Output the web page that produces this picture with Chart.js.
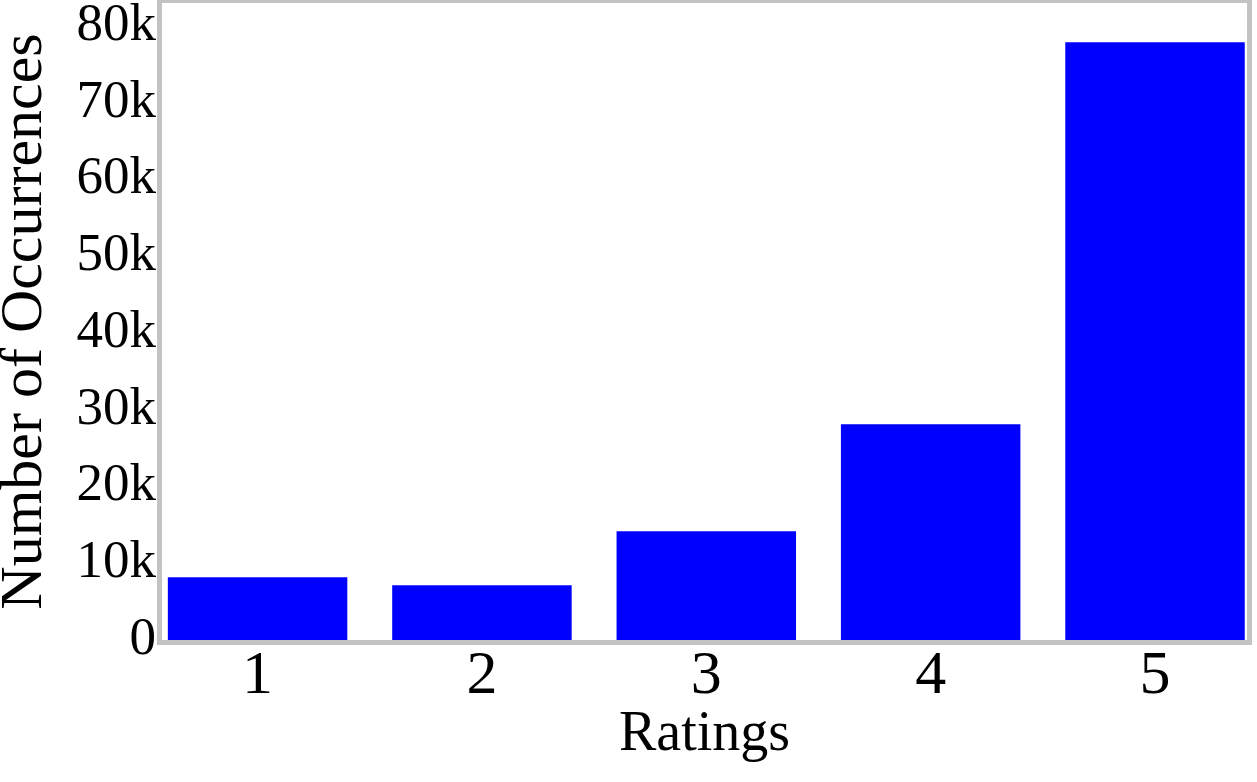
<!DOCTYPE html>
<html>
<head>
<meta charset="utf-8">
<title>Ratings</title>
<script src="https://cdn.jsdelivr.net/npm/chart.js@4.4.1/dist/chart.umd.min.js"></script>
<style>
    html, body { margin: 0; padding: 0; background: #ffffff; }
    #wrap { width: 1257px; height: 782px; }
</style>
</head>
<body>
<div id="wrap"><canvas id="ratingsChart" width="1257" height="782"></canvas></div>
<script>
// Data
const ratings = [1, 2, 3, 4, 5];
const occurrences = [8170, 7130, 14160, 28100, 77880];
const yTickValues = [0, 10000, 20000, 30000, 40000, 50000, 60000, 70000, 80000];
const yTickLabels = ['0', '10k', '20k', '30k', '40k', '50k', '60k', '70k', '80k'];

const serif = "'Liberation Serif', 'Times New Roman', serif";

// Grey frame round the plot area
const plotFrame = {
    id: 'plotFrame',
    afterDatasetsDraw(chart) {
        const { ctx, chartArea } = chart;
        ctx.save();
        ctx.strokeStyle = '#c3c3c3';
        ctx.lineWidth = 5;
        ctx.strokeRect(chartArea.left - 2.5, chartArea.top - 2.5,
            chartArea.right - chartArea.left + 5, chartArea.bottom - chartArea.top + 5);
        ctx.restore();
    }
};

document.addEventListener('DOMContentLoaded', function() {
    const ctx = document.getElementById('ratingsChart').getContext('2d');
    window.ratingsChart = new Chart(ctx, {
        type: 'bar',
        data: {
            datasets: [{
                data: ratings.map((r, i) => ({ x: r, y: occurrences[i] })),
                backgroundColor: '#0000ff',
                borderWidth: 0,
                barPercentage: 0.8,
                categoryPercentage: 1
            }]
        },
        options: {
            responsive: false,
            animation: false,
            layout: { padding: { top: 3, right: 10, bottom: 0, left: 0 } },
            plugins: {
                legend: { display: false },
                tooltip: { enabled: false }
            },
            scales: {
                x: {
                    type: 'linear',
                    offset: false,
                    min: 0.574,
                    max: 5.41,
                    grid: { display: false, drawTicks: false, offset: false },
                    border: { display: false },
                    afterBuildTicks: scale => {
                        scale.ticks = ratings.map(v => ({ value: v }));
                    },
                    ticks: {
                        color: '#000000',
                        padding: 0,
                        font: { family: serif, size: 62 },
                        callback: value => String(value)
                    },
                    title: {
                        display: true,
                        text: 'Ratings',
                        color: '#000000',
                        font: { family: serif, size: 56 },
                        padding: { top: 0, bottom: 13 }
                    },
                    afterFit: scale => {
                        scale.height = 142;
                        scale.paddingLeft = 0;
                        scale.paddingRight = 0;
                    }
                },
                y: {
                    min: 0,
                    max: 83000,
                    grid: { display: false, drawTicks: false },
                    border: { display: false },
                    afterBuildTicks: scale => {
                        scale.ticks = yTickValues.map(v => ({ value: v }));
                    },
                    ticks: {
                        color: '#000000',
                        padding: 6,
                        font: { family: serif, size: 53 },
                        callback: (value, index) => yTickLabels[index]
                    },
                    title: {
                        display: true,
                        text: 'Number of Occurrences',
                        color: '#000000',
                        font: { family: serif, size: 60, lineHeight: 0.8 },
                        padding: { top: 1, bottom: 0 }
                    },
                    afterFit: scale => {
                        scale.width = 162;
                        scale.paddingTop = 0;
                        scale.paddingBottom = 0;
                    }
                }
            }
        },
        plugins: [plotFrame]
    });
});
</script>
</body>
</html>
